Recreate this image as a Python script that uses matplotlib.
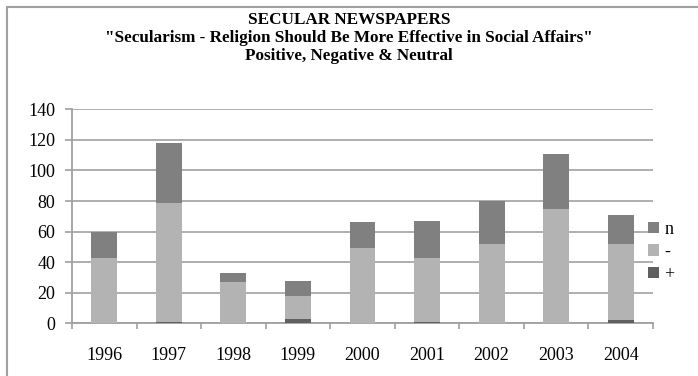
import matplotlib.pyplot as plt
from matplotlib.patches import Rectangle

# Data
years = ['1996', '1997', '1998', '1999', '2000', '2001', '2002', '2003', '2004']
positive = [0, 1, 0, 3, 0, 1, 0, 0, 2]
negative = [43, 78, 27, 15, 49, 42, 52, 75, 50]
neutral = [17, 39, 6, 10, 17, 24, 28, 36, 19]

plt.rcParams['font.family'] = ['Liberation Serif', 'DejaVu Serif']

fig = plt.figure(figsize=(6.98, 3.76), dpi=100)
ax = fig.add_axes([72 / 698, 52.7 / 376, 581 / 698, 214 / 376])

x = list(range(len(years)))
bottom_neg = positive
bottom_neu = [p + n for p, n in zip(positive, negative)]

b_pos = ax.bar(x, positive, width=0.4, color='#606060', zorder=3)
b_neg = ax.bar(x, negative, width=0.4, bottom=bottom_neg, color='#b3b3b3', zorder=3)
b_neu = ax.bar(x, neutral, width=0.4, bottom=bottom_neu, color='#808080', zorder=3)

ax.set_xlim(-0.5, len(years) - 0.5)
ax.set_ylim(0, 140)
ax.set_yticks(range(0, 141, 20))
ax.yaxis.grid(True, color='#a8a8a8', linewidth=1.3, zorder=0)
ax.set_axisbelow(True)

ax.set_xticks(x)
ax.set_xticklabels(years, fontsize=13)
ax.set_xticks([i - 0.5 for i in range(len(years) + 1)], minor=True)
ax.tick_params(axis='x', which='major', length=0, pad=17)
ax.tick_params(axis='x', which='minor', length=4, color='#a0a0a0', width=1.2)
ax.tick_params(axis='y', length=5, color='#a0a0a0', width=1.2, labelsize=13,
               pad=7)

for side in ['top', 'right']:
    ax.spines[side].set_visible(False)
for side in ['left', 'bottom']:
    ax.spines[side].set_color('#a0a0a0')
    ax.spines[side].set_linewidth(1.3)

fig.legend([b_neu, b_neg, b_pos], ['n', '-', '+'], loc='center left',
           bbox_to_anchor=(632 / 698, 1 - 252 / 376), frameon=False,
           handlelength=0.6, handleheight=0.6, handletextpad=0.3,
           labelspacing=0.3, fontsize=13)

fig.text(0.5, 1 - 20 / 376, 'SECULAR NEWSPAPERS', ha='center', va='center',
         fontsize=12.3, fontweight='bold')
fig.text(0.5, 1 - 38 / 376,
         '"Secularism - Religion Should Be More Effective in Social Affairs"',
         ha='center', va='center', fontsize=12.3, fontweight='bold')
fig.text(0.5, 1 - 56 / 376, 'Positive, Negative & Neutral', ha='center',
         va='center', fontsize=12.3, fontweight='bold')

# outer chart border
fig.patches.append(Rectangle((7 / 698, -0.01), 1.0, 1 - 7 / 376 + 0.01,
                             transform=fig.transFigure, fill=False,
                             edgecolor='#a0a0a0', linewidth=1.5))

fig.savefig('out.png', dpi=100)
